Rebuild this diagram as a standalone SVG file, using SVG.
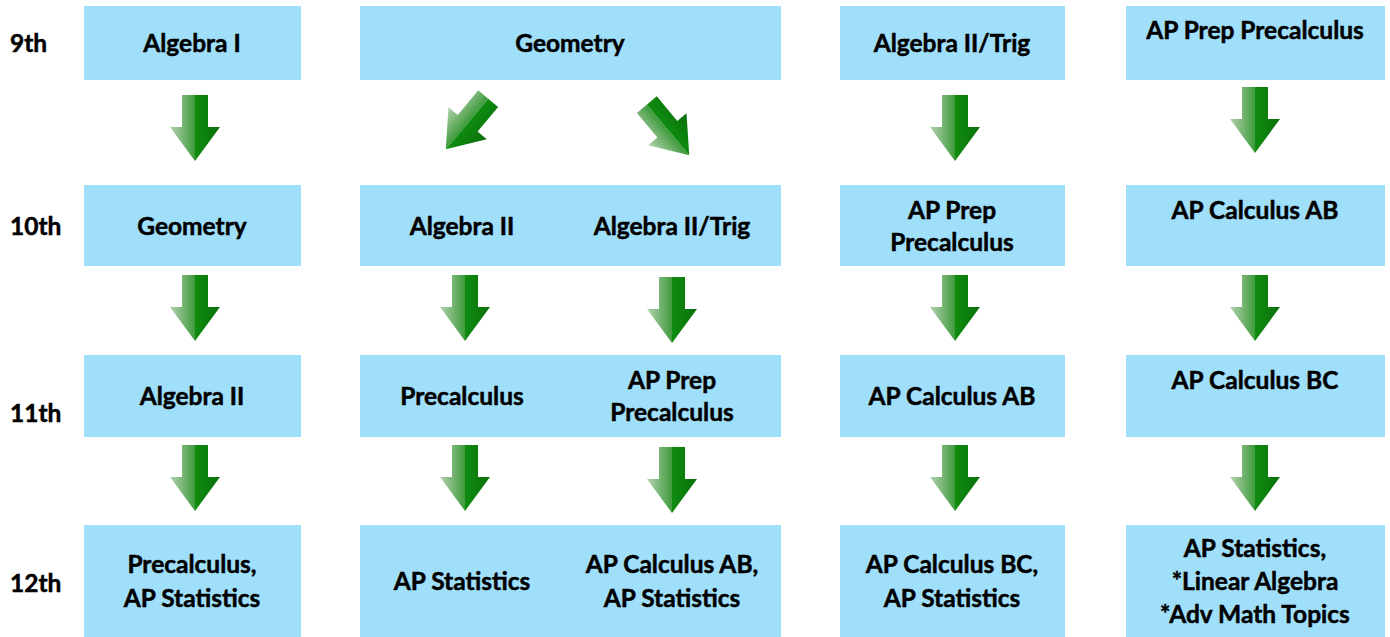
<svg xmlns="http://www.w3.org/2000/svg" width="1390" height="637" viewBox="0 0 1390 637">
<defs>
<style>
.box{fill:#a0dffa}
.t{font-family:Lato,"Liberation Sans",sans-serif;font-weight:bold;font-size:24.5px;fill:#000;stroke:#000;stroke-width:0.5px;text-anchor:middle}
.lbl{font-family:Lato,"Liberation Sans",sans-serif;font-weight:bold;font-size:24.5px;fill:#000;stroke:#000;stroke-width:0.5px}
</style>
<linearGradient id="gl" x1="0" y1="0" x2="1" y2="0">
<stop offset="0" stop-color="#b4d2b0"/>
<stop offset="1" stop-color="#3f9b3c"/>
</linearGradient>
<linearGradient id="gr" x1="0" y1="0" x2="1" y2="0">
<stop offset="0" stop-color="#0f8c10"/>
<stop offset="1" stop-color="#0a6f0a"/>
</linearGradient>
<g id="arrow">
<polygon points="-13,-33 0,-33 0,33 -25,-1 -13,-1" fill="url(#gl)"/>
<polygon points="0,-33 13,-33 13,-1 25,-1 0,33" fill="url(#gr)"/>
</g>
</defs>
<rect width="1390" height="637" fill="#fff"/>
<g id="labels">
<text class="lbl" x="10" y="52">9th</text>
<text class="lbl" x="10" y="235">10th</text>
<text class="lbl" x="10" y="422">11th</text>
<text class="lbl" x="10" y="592">12th</text>
</g>
<g id="n1"><rect class="box" x="84" y="6" width="217" height="74"/><text class="t" x="192" y="52">Algebra I</text></g>
<g id="n2"><rect class="box" x="360" y="6" width="421" height="74"/><text class="t" x="570" y="52">Geometry</text></g>
<g id="n3"><rect class="box" x="840" y="6" width="225" height="74"/><text class="t" x="952" y="52">Algebra II/Trig</text></g>
<g id="n4"><rect class="box" x="1126" y="6" width="259" height="74"/><text class="t" x="1255" y="39">AP Prep Precalculus</text></g>
<g id="n5"><rect class="box" x="84" y="185" width="217" height="81"/><text class="t" x="192" y="235">Geometry</text></g>
<g id="n6"><rect class="box" x="360" y="185" width="421" height="81"/><text class="t" x="462" y="235">Algebra II</text><text class="t" x="672" y="235">Algebra II/Trig</text></g>
<g id="n7"><rect class="box" x="840" y="185" width="225" height="81"/><text class="t" x="952" y="219">AP Prep</text><text class="t" x="952" y="251">Precalculus</text></g>
<g id="n8"><rect class="box" x="1126" y="185" width="259" height="81"/><text class="t" x="1255" y="219">AP Calculus AB</text></g>
<g id="n9"><rect class="box" x="84" y="355" width="217" height="82"/><text class="t" x="192" y="405">Algebra II</text></g>
<g id="n10"><rect class="box" x="360" y="355" width="421" height="82"/><text class="t" x="462" y="405">Precalculus</text><text class="t" x="672" y="389">AP Prep</text><text class="t" x="672" y="421">Precalculus</text></g>
<g id="n11"><rect class="box" x="840" y="355" width="225" height="82"/><text class="t" x="952" y="405">AP Calculus AB</text></g>
<g id="n12"><rect class="box" x="1126" y="355" width="259" height="82"/><text class="t" x="1255" y="389">AP Calculus BC</text></g>
<g id="n13"><rect class="box" x="84" y="525" width="217" height="112"/><text class="t" x="192" y="573">Precalculus,</text><text class="t" x="192" y="607">AP Statistics</text></g>
<g id="n14"><rect class="box" x="360" y="525" width="421" height="112"/><text class="t" x="462" y="590">AP Statistics</text><text class="t" x="672" y="573">AP Calculus AB,</text><text class="t" x="672" y="607">AP Statistics</text></g>
<g id="n15"><rect class="box" x="840" y="525" width="225" height="112"/><text class="t" x="952" y="573">AP Calculus BC,</text><text class="t" x="952" y="607">AP Statistics</text></g>
<g id="n16"><rect class="box" x="1126" y="525" width="259" height="112"/><text class="t" x="1255" y="557">AP Statistics,</text><text class="t" x="1255" y="590">*Linear Algebra</text><text class="t" x="1255" y="623">*Adv Math Topics</text></g>
<g id="connectors">
<use href="#arrow" transform="translate(195,128)"/>
<use href="#arrow" transform="translate(195,308)"/>
<use href="#arrow" transform="translate(195,478)"/>
<use href="#arrow" transform="translate(467,124) rotate(40)"/>
<use href="#arrow" transform="translate(668,130) rotate(-40)"/>
<use href="#arrow" transform="translate(465,308)"/>
<use href="#arrow" transform="translate(465,478)"/>
<use href="#arrow" transform="translate(672,310)"/>
<use href="#arrow" transform="translate(672,480)"/>
<use href="#arrow" transform="translate(955,128)"/>
<use href="#arrow" transform="translate(955,308)"/>
<use href="#arrow" transform="translate(955,478)"/>
<use href="#arrow" transform="translate(1255,120)"/>
<use href="#arrow" transform="translate(1255,308)"/>
<use href="#arrow" transform="translate(1255,478)"/>
</g>
</svg>
